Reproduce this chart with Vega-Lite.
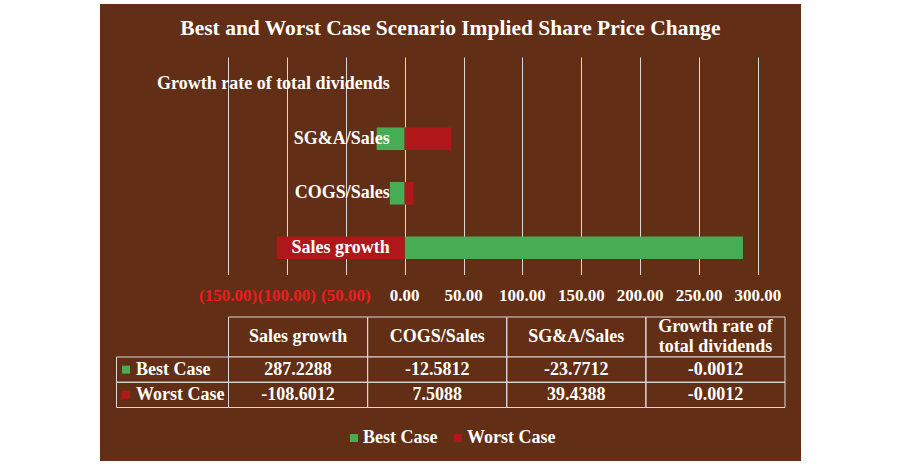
{
  "$schema": "https://vega.github.io/schema/vega-lite/v6.json",
  "background": "white",
  "padding": {"left": 100, "top": 4, "right": 0, "bottom": 0},
  "bounds": "flush",
  "spacing": 0,
  "datasets": {
    "cases": [
      {"metric": "Sales growth", "series": "Best Case", "value": 287.2288},
      {"metric": "COGS/Sales", "series": "Best Case", "value": -12.5812},
      {"metric": "SG&A/Sales", "series": "Best Case", "value": -23.7712},
      {"metric": "Growth rate of total dividends", "series": "Best Case", "value": -0.0012},
      {"metric": "Sales growth", "series": "Worst Case", "value": -108.6012},
      {"metric": "COGS/Sales", "series": "Worst Case", "value": 7.5088},
      {"metric": "SG&A/Sales", "series": "Worst Case", "value": 39.4388},
      {"metric": "Growth rate of total dividends", "series": "Worst Case", "value": -0.0012}
    ],
    "headers": [
      {"metric": "Sales growth", "label": "Sales growth", "lines": 1},
      {"metric": "COGS/Sales", "label": "COGS/Sales", "lines": 1},
      {"metric": "SG&A/Sales", "label": "SG&A/Sales", "lines": 1},
      {"metric": "Growth rate of total dividends", "label": "Growth rate of\ntotal dividends", "lines": 2}
    ],
    "ticks": [
      {"tick": -150}, {"tick": -100}, {"tick": -50}, {"tick": 0}, {"tick": 50},
      {"tick": 100}, {"tick": 150}, {"tick": 200}, {"tick": 250}, {"tick": 300}
    ]
  },
  "vconcat": [
    {
      "width": 701,
      "height": 53,
      "data": {"values": [{"title": "Best and Worst Case Scenario Implied  Share Price Change"}]},
      "mark": {"type": "text", "fontSize": 21.5, "dy": -2},
      "encoding": {
        "x": {"field": "title", "type": "nominal", "axis": null},
        "y": {"field": "title", "type": "nominal", "axis": null},
        "text": {"field": "title"}
      }
    },
    {
      "width": 701,
      "height": 218,
      "data": {"name": "cases"},
      "layer": [
        {
          "mark": {"type": "bar"},
          "encoding": {
            "x": {
              "field": "value",
              "type": "quantitative",
              "stack": null,
              "scale": {"domain": [-258.68, 336.51], "nice": false, "zero": false},
              "axis": {
                "values": [-150, -100, -50, 0, 50, 100, 150, 200, 250, 300],
                "grid": true,
                "gridColor": "#d9d9d9",
                "gridWidth": 1,
                "labels": false,
                "ticks": false,
                "domain": false,
                "title": null
              }
            },
            "y": {
              "field": "metric",
              "type": "nominal",
              "scale": {
                "domain": ["Growth rate of total dividends", "SG&A/Sales", "COGS/Sales", "Sales growth"],
                "paddingInner": 0.585,
                "paddingOuter": 0.2925
              },
              "axis": null
            },
            "color": {
              "field": "series",
              "type": "nominal",
              "scale": {"domain": ["Best Case", "Worst Case"], "range": ["#47AD54", "#B0171B"]},
              "legend": {
                "orient": "none",
                "direction": "horizontal",
                "legendX": 245,
                "legendY": 425,
                "title": null,
                "padding": 0,
                "symbolType": "square",
                "symbolSize": 64,
                "symbolStrokeWidth": 0,
                "labelFont": "Liberation Serif",
                "labelFontWeight": "bold",
                "labelFontSize": 18,
                "labelColor": "white",
                "labelOffset": 0,
                "columnPadding": 11
              }
            }
          }
        },
        {
          "transform": [{"filter": "datum.series === 'Best Case'"}],
          "mark": {"type": "text", "align": "right", "dx": -15},
          "encoding": {
            "x": {"datum": 0, "type": "quantitative"},
            "y": {"field": "metric", "type": "nominal"},
            "text": {"field": "metric"}
          }
        }
      ]
    },
    {
      "width": 701,
      "height": 42,
      "data": {"name": "ticks"},
      "mark": {"type": "text", "fontSize": 17},
      "encoding": {
        "x": {
          "field": "tick",
          "type": "quantitative",
          "scale": {"domain": [-258.68, 336.51], "nice": false, "zero": false},
          "axis": null
        },
        "text": {"field": "tick", "type": "quantitative", "format": "(.2f"},
        "color": {"condition": {"test": "datum.tick < 0", "value": "#ED1C24"}, "value": "white"}
      }
    },
    {
      "width": 701,
      "height": 40,
      "data": {"name": "headers"},
      "layer": [
        {
          "mark": {"type": "rect", "fill": "transparent", "stroke": "#d9d9d9", "strokeWidth": 1},
          "encoding": {
            "x": {
              "field": "metric",
              "type": "nominal",
              "scale": {
                "type": "band",
                "domain": ["Sales growth", "COGS/Sales", "SG&A/Sales", "Growth rate of total dividends"],
                "range": [128.5, 685],
                "paddingInner": 0,
                "paddingOuter": 0
              },
              "axis": null
            }
          }
        },
        {
          "transform": [{"filter": "datum.lines === 1"}],
          "mark": {"type": "text"},
          "encoding": {
            "x": {"field": "metric", "type": "nominal"},
            "text": {"field": "label"}
          }
        },
        {
          "transform": [{"filter": "datum.lines === 2"}],
          "mark": {"type": "text", "lineBreak": "\n", "lineHeight": 20, "dy": -10},
          "encoding": {
            "x": {"field": "metric", "type": "nominal"},
            "text": {"field": "label"}
          }
        }
      ]
    },
    {
      "width": 701,
      "height": 104,
      "data": {"name": "cases"},
      "resolve": {"scale": {"x": "independent"}},
      "encoding": {
        "y": {
          "field": "series",
          "type": "nominal",
          "scale": {
            "type": "band",
            "domain": ["Best Case", "Worst Case"],
            "range": [0, 50.5],
            "paddingInner": 0,
            "paddingOuter": 0
          },
          "axis": null
        }
      },
      "layer": [
        {
          "mark": {"type": "rect", "fill": "transparent", "stroke": "#d9d9d9", "strokeWidth": 1},
          "encoding": {
            "x": {
              "field": "metric",
              "type": "nominal",
              "scale": {
                "type": "band",
                "domain": ["Sales growth", "COGS/Sales", "SG&A/Sales", "Growth rate of total dividends"],
                "range": [128.5, 685],
                "paddingInner": 0,
                "paddingOuter": 0
              },
              "axis": null
            }
          }
        },
        {
          "mark": {"type": "text"},
          "encoding": {
            "x": {
              "field": "metric",
              "type": "nominal",
              "scale": {
                "type": "band",
                "domain": ["Sales growth", "COGS/Sales", "SG&A/Sales", "Growth rate of total dividends"],
                "range": [128.5, 685],
                "paddingInner": 0,
                "paddingOuter": 0
              },
              "axis": null
            },
            "text": {"field": "value", "type": "quantitative", "format": ".4f"}
          }
        },
        {
          "transform": [{"filter": "datum.metric === 'Sales growth'"}],
          "mark": {"type": "rect", "fill": "transparent", "stroke": "#d9d9d9", "strokeWidth": 1},
          "encoding": {
            "x": {
              "field": "metric",
              "type": "nominal",
              "scale": {"type": "band", "domain": ["Sales growth"], "range": [16.5, 128.5], "paddingInner": 0, "paddingOuter": 0},
              "axis": null
            }
          }
        },
        {
          "transform": [{"filter": "datum.metric === 'Sales growth'"}],
          "mark": {"type": "point", "shape": "square", "filled": true, "size": 64, "opacity": 1, "strokeWidth": 0},
          "encoding": {
            "x": {
              "field": "metric",
              "type": "nominal",
              "bandPosition": 0.085,
              "scale": {"type": "band", "domain": ["Sales growth"], "range": [16.5, 128.5], "paddingInner": 0, "paddingOuter": 0},
              "axis": null
            },
            "color": {
              "field": "series",
              "type": "nominal",
              "scale": {"domain": ["Best Case", "Worst Case"], "range": ["#47AD54", "#B0171B"]},
              "legend": null
            }
          }
        },
        {
          "transform": [{"filter": "datum.metric === 'Sales growth'"}],
          "mark": {"type": "text", "align": "left"},
          "encoding": {
            "x": {
              "field": "metric",
              "type": "nominal",
              "bandPosition": 0.174,
              "scale": {"type": "band", "domain": ["Sales growth"], "range": [16.5, 128.5], "paddingInner": 0, "paddingOuter": 0},
              "axis": null
            },
            "text": {"field": "series"}
          }
        }
      ]
    }
  ],
  "config": {
    "locale": {
      "number": {"decimal": ".", "thousands": ",", "grouping": [3], "currency": ["$", ""], "minus": "-"}
    },
    "view": {"fill": "#622E15", "stroke": null},
    "text": {"font": "Liberation Serif", "fontWeight": "bold", "fontSize": 18, "color": "white", "baseline": "middle"}
  }
}
